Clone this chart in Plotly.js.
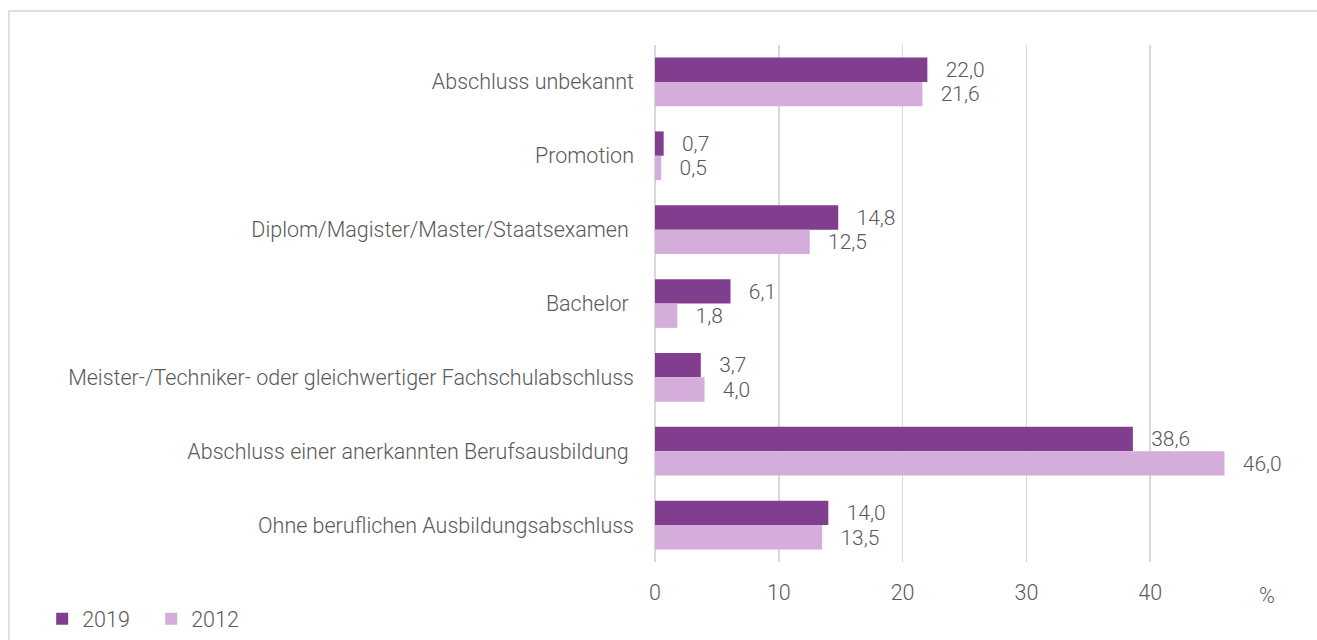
<!DOCTYPE html>
<html>
<head>
<meta charset="utf-8">
<script src="https://cdn.plot.ly/plotly-3.0.1.min.js"></script>
<style>
html,body{margin:0;padding:0;background:#fff;overflow:hidden;}
#chart{width:1317px;height:640px;position:absolute;left:0;top:0;}
#frame{position:absolute;left:8px;top:10px;width:1400px;height:700px;border:2px solid #e0e0e0;pointer-events:none;}
</style>
</head>
<body>
<div id="chart"></div>
<div id="frame"></div>
<script>
const categories = [
  "Abschluss unbekannt",
  "Promotion",
  "Diplom/Magister/Master/Staatsexamen\u00a0",
  "Bachelor\u00a0",
  "Meister-/Techniker- oder gleichwertiger Fachschulabschluss",
  "Abschluss einer anerkannten Berufsausbildung\u00a0",
  "Ohne beruflichen Ausbildungsabschluss"
];
const values2019 = [22.0, 0.7, 14.8, 6.1, 3.7, 38.6, 14.0];
const values2012 = [21.6, 0.5, 12.5, 1.8, 4.0, 46.0, 13.5];
const seriesNames = ["2019", "2012"];
const xTicks = [0, 10, 20, 30, 40];

const FONT = "Roboto, 'Open Sans', sans-serif";
const GREY = "#595959";
const SIZE = 21.5;
const pad = "\u00a0\u00a0\u00a0";

const traces = [
  {type:"bar", orientation:"h", name:seriesNames[0], y:categories, x:values2019,
   marker:{color:"#823E8E"}, text:values2019, texttemplate:pad+"%{x:.1f}",
   textposition:"outside", cliponaxis:false,
   textfont:{family:FONT, size:SIZE, color:GREY, weight:300}},
  {type:"bar", orientation:"h", name:seriesNames[1], y:categories, x:values2012,
   marker:{color:"#D4ADDB"}, text:values2012, texttemplate:pad+"%{x:.1f}",
   textposition:"outside", cliponaxis:false,
   textfont:{family:FONT, size:SIZE, color:GREY, weight:300}}
];

const layout = {
  width:1317, height:640,
  margin:{l:655, r:43, t:45, b:78, autoexpand:false},
  paper_bgcolor:"#fff", plot_bgcolor:"#fff",
  separators:",.",
  barmode:"group", bargap:0.34, bargroupgap:0,
  font:{family:FONT, size:SIZE, color:GREY, weight:300},
  xaxis:{range:[0,50], tickvals:xTicks, ticktext:xTicks.map(String),
         showgrid:true, gridcolor:"#d9d9d9", gridwidth:1.5,
         zeroline:true, zerolinecolor:"#d9d9d9", zerolinewidth:1.5,
         showline:false, ticks:"", ticklabelstandoff:15,
         tickfont:{family:FONT, size:SIZE, color:GREY, weight:300}},
  yaxis:{type:"category", autorange:"reversed", showgrid:false, zeroline:false,
         showline:false, ticks:"", ticklabelstandoff:20,
         tickfont:{family:FONT, size:SIZE, color:GREY, weight:300}},
  showlegend:true,
  legend:{orientation:"h", x:-0.99, xanchor:"left", y:-0.110, yanchor:"middle",
          font:{family:FONT, size:SIZE, color:GREY, weight:300},
          itemwidth:30, entrywidth:64, traceorder:"normal", bgcolor:"rgba(0,0,0,0)"},
  annotations:[{xref:"paper", yref:"paper", x:0.989, y:-0.064, xanchor:"center", yanchor:"middle",
                text:"%", showarrow:false, font:{family:FONT, size:SIZE, color:GREY, weight:300}}]
};

Plotly.newPlot("chart", traces, layout, {displayModeBar:false, staticPlot:true});
</script>
</body>
</html>
